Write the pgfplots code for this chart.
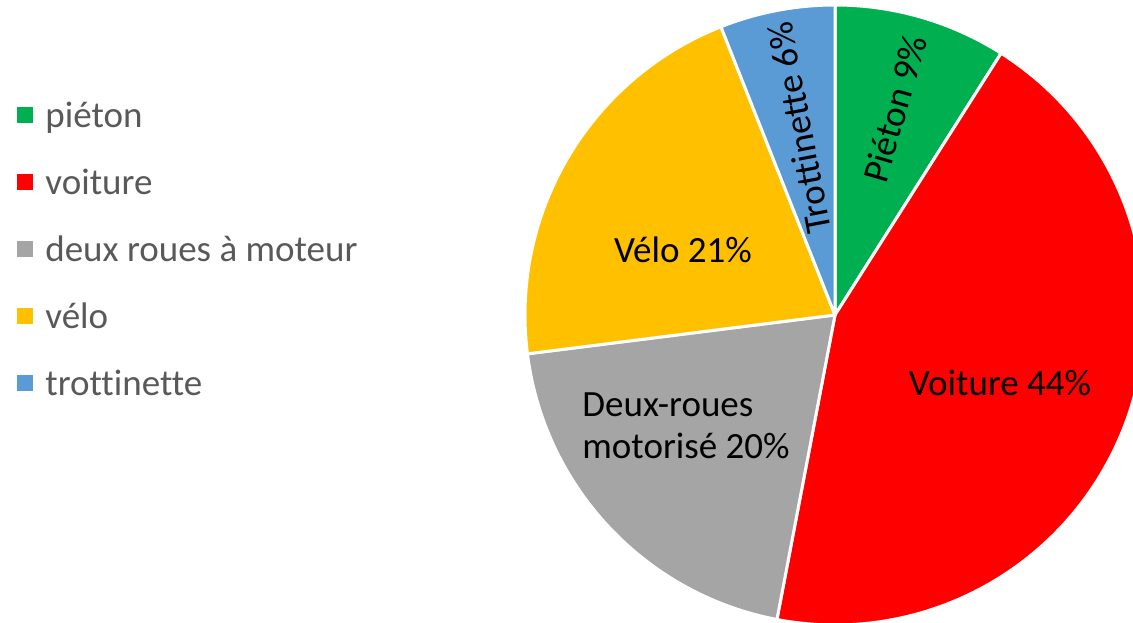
\documentclass[border=0pt]{standalone}
\usepackage{fontspec}
\setmainfont[Ligatures={NoCommon}]{Carlito}
\usepackage{pgfplots}
\pgfplotsset{compat=1.18}

\definecolor{cPieton}{HTML}{00B050}
\definecolor{cVoiture}{HTML}{FF0000}
\definecolor{cDeux}{HTML}{A5A5A5}
\definecolor{cVelo}{HTML}{FFC000}
\definecolor{cTrott}{HTML}{5B9BD5}
\definecolor{legtext}{HTML}{595959}

\newcommand\lblfont{\fontsize{18.5bp}{21bp}\selectfont}

% slice: start (%), share (%), colour -- pie centre (835,308), radius 310 px
\newcommand\slice[3]{%
  \filldraw[fill=#3, draw=white, line width=1.5bp, line join=round]
    (axis cs:835,308) -- ++({90-3.6*(#1)}:155bp)
    arc[start angle={90-3.6*(#1)}, delta angle={-3.6*(#2)}, radius=155bp] -- cycle;}

\begin{document}
\begin{tikzpicture}
\begin{axis}[
    name=ax,
    at={(0,0)}, anchor=south west,
    scale only axis,
    width=566.5bp, height=311.5bp,
    xmin=0, xmax=1133, ymin=0, ymax=623,
    axis lines=none,
    legend image code/.code={\fill[#1, draw=none] (0bp,-2.2bp) rectangle (8bp,5.8bp);},
    legend cell align=left,
    legend style={at={(axis cs:17,370)}, anchor=west, draw=none, fill=none,
        inner sep=0pt, font=\lblfont, text=legtext,
        nodes={inner sep=0pt, text height=13bp, text depth=4bp},
        row sep=16.5bp,
        /tikz/every odd column/.append style={column sep=6bp}},
]
\addlegendimage{fill=cPieton, draw=none}
\addlegendentry{piéton}
\addlegendimage{fill=cVoiture, draw=none}
\addlegendentry{voiture}
\addlegendimage{fill=cDeux, draw=none}
\addlegendentry{deux roues à moteur}
\addlegendimage{fill=cVelo, draw=none}
\addlegendentry{vélo}
\addlegendimage{fill=cTrott, draw=none}
\addlegendentry{trottinette}

\slice{0}{9}{cPieton}
\slice{9}{44}{cVoiture}
\slice{53}{20}{cDeux}
\slice{73}{21}{cVelo}
\slice{94}{6}{cTrott}

\node[font=\lblfont, rotate=73.8] at (axis cs:895,514) {Piéton 9\%};
\node[font=\lblfont] at (axis cs:1000,240) {Voiture 44\%};
\node[font=\lblfont, align=left] at (axis cs:686,197) {Deux-roues\\motorisé 20\%};
\node[font=\lblfont] at (axis cs:683,373) {Vélo 21\%};
\node[font=\lblfont, rotate=100.8] at (axis cs:799,495) {Trottinette 6\%};
\end{axis}
\pgfresetboundingbox
\path (ax.south west) rectangle (ax.north east);
\end{tikzpicture}
\end{document}
